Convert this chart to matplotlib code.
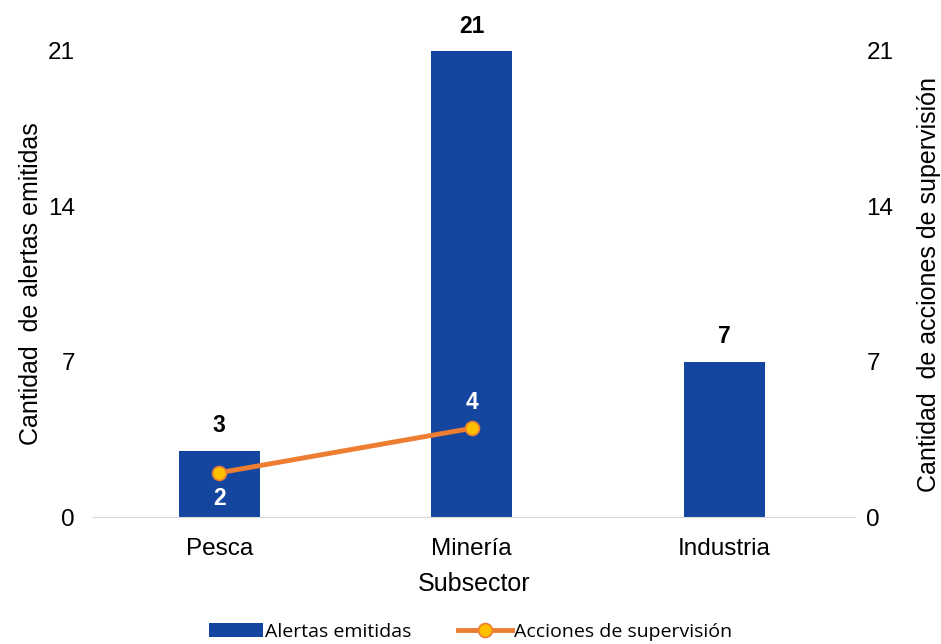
import numpy as np
import matplotlib.pyplot as plt

subsectores = ['Pesca', 'Minería', 'Industria']
alertas = [3, 21, 7]
acciones = [2, 4, np.nan]
ticks = [0, 7, 14, 21]

plt.rcParams['font.family'] = ['Liberation Sans', 'DejaVu Sans']

fig = plt.figure(figsize=(9.41, 6.44), dpi=100)
ax = fig.add_axes([0.099, 0.197, 0.810, 0.724])
ax2 = ax.twinx()

x = np.arange(len(subsectores))
ax.bar(x, alertas, width=0.32, color='#1446A0', label='Alertas emitidas', zorder=2)
for xi, v in zip(x, alertas):
    ax.text(xi, v + 0.6, str(v), ha='center', va='bottom', fontsize=16.5,
            fontweight='bold', clip_on=False)

ax2.plot(x, acciones, '-o', color='#ED7D31', lw=3.5, ms=10, mfc='#FFC000',
         mec='#ED7D31', mew=1.2, label='Acciones de supervisión', zorder=3)
ax2.text(x[0], acciones[0] - 0.65, '2', ha='center', va='top', fontsize=16.5,
         fontweight='bold', color='white')
ax2.text(x[1], acciones[1] + 0.65, '4', ha='center', va='bottom', fontsize=16.5,
         fontweight='bold', color='white')

for a in (ax, ax2):
    a.set_ylim(0, 21)
    a.set_yticks(ticks)
    a.tick_params(axis='both', length=0, labelsize=17.5)
    for s in a.spines.values():
        s.set_visible(False)
ax.spines['bottom'].set_visible(True)
ax.spines['bottom'].set_color('#D9D9D9')
ax.set_xlim(-0.5, 2.52)
ax.set_xticks(x)
ax.set_xticklabels(subsectores)
ax.tick_params(axis='x', pad=15)
ax.tick_params(axis='y', pad=13)
ax2.tick_params(axis='y', pad=8)

ax.set_xlabel('Subsector', fontsize=18, labelpad=9)
ax.set_ylabel('Cantidad  de alertas emitidas', fontsize=18, labelpad=4)
ax2.set_ylabel('Cantidad  de acciones de supervisión', fontsize=18, labelpad=17)

h1, l1 = ax.get_legend_handles_labels()
h2, l2 = ax2.get_legend_handles_labels()
fig.legend(h1 + h2, l1 + l2, loc='lower center', ncol=2, frameon=False,
           bbox_to_anchor=(0.5, -0.022), prop={'family': 'Open Sans', 'size': 14},
           handlelength=2.8, handletextpad=0.1, columnspacing=2.4)

fig.savefig('out.png', dpi=100)
